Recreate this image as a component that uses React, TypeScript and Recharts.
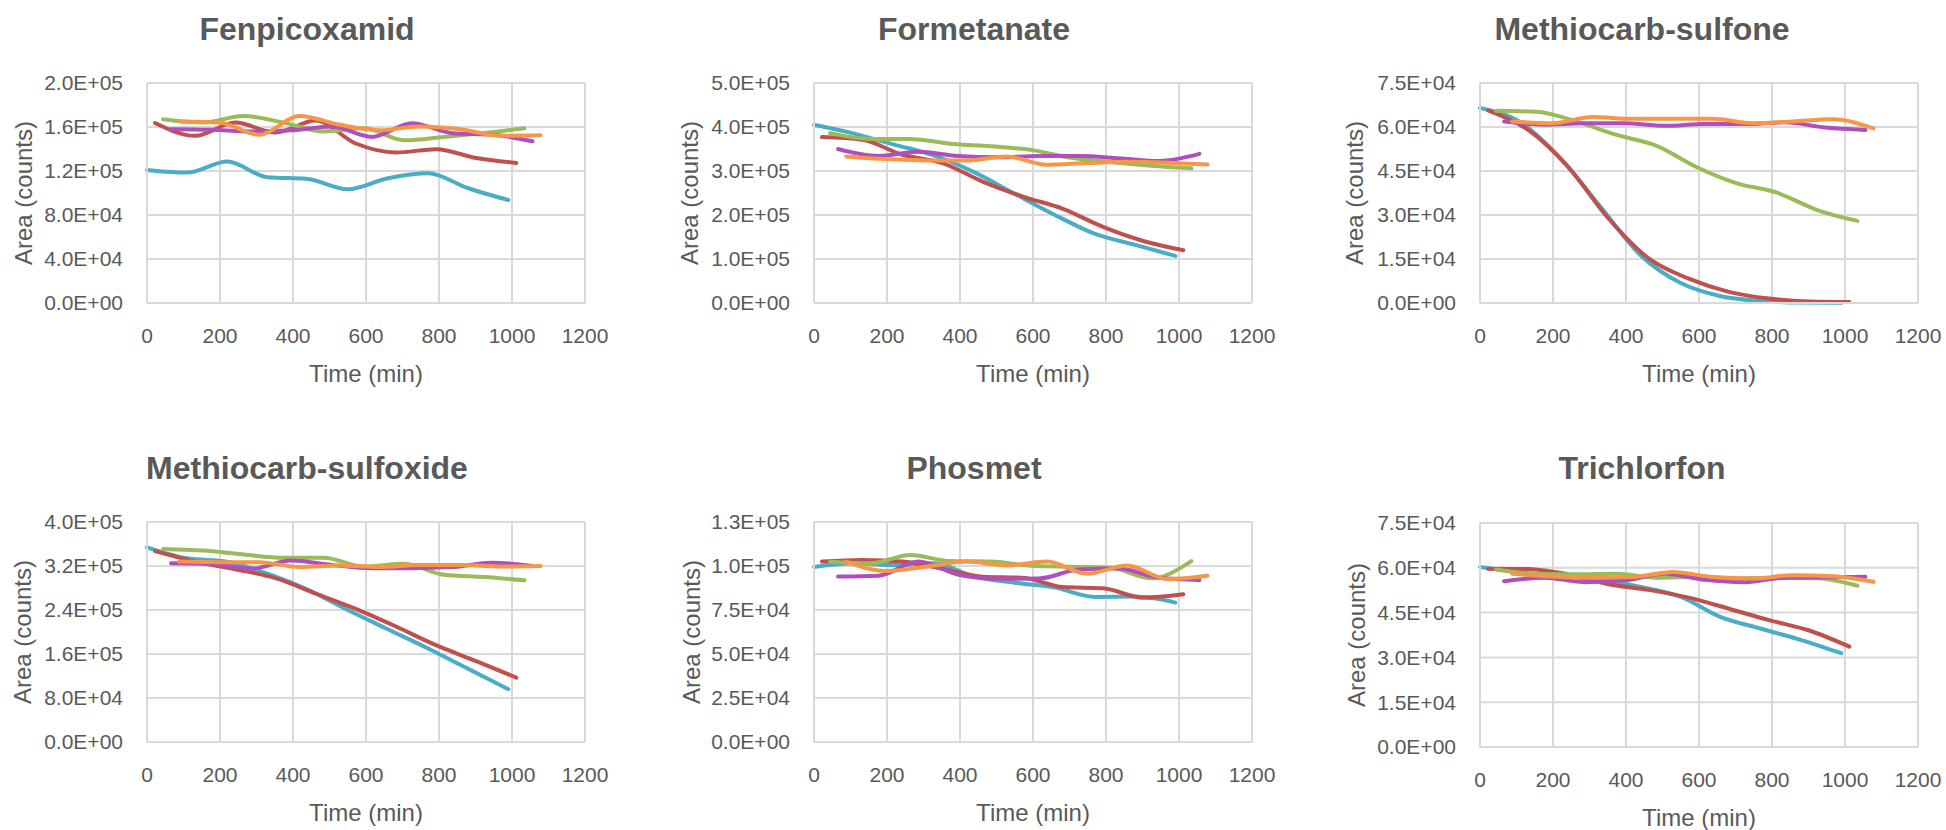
import { CartesianGrid, Label, Line, LineChart, XAxis, YAxis } from "recharts";

// sampling times (min) for the five vials, staggered injections
const TIME_A = [0, 110, 220, 330, 440, 550, 660, 770, 880, 990];
const TIME_B = [22, 132, 242, 352, 462, 572, 682, 792, 902, 1012];
const TIME_C = [44, 154, 264, 374, 484, 594, 704, 814, 924, 1034];
const TIME_D = [66, 176, 286, 396, 506, 616, 726, 836, 946, 1056];
const TIME_E = [88, 198, 308, 418, 528, 638, 748, 858, 968, 1078];

const X_TICKS = [0, 200, 400, 600, 800, 1000, 1200];

// Fenpicoxamid
const FEN_A = [121000, 118600, 128600, 114300, 112800, 103400, 113400, 118000, 104300, 93600];
const FEN_B = [163600, 152000, 164000, 155000, 166000, 145000, 136800, 139800, 131800, 127300];
const FEN_C = [167000, 164000, 170000, 164000, 156000, 159000, 148000, 151000, 154500, 158800];
const FEN_D = [158000, 157500, 156000, 157000, 160500, 151000, 163500, 154400, 153000, 147000];
const FEN_E = [165000, 164000, 153000, 170000, 162000, 157000, 160500, 158000, 152000, 152400];
const FEN_Y = [0, 40000, 80000, 120000, 160000, 200000];

// Formetanate
const FOR_A = [405000, 385000, 360000, 335000, 297000, 248000, 200000, 157000, 132000, 107000];
const FOR_B = [377000, 371000, 337000, 318000, 276000, 242000, 214000, 173000, 141000, 120000];
const FOR_C = [386000, 373000, 373000, 362000, 356000, 348000, 330000, 320000, 312000, 306000];
const FOR_D = [350000, 334000, 344000, 334000, 331000, 334000, 334000, 329000, 323000, 339000];
const FOR_E = [333000, 327000, 324000, 324000, 333000, 314000, 318000, 321000, 319000, 315000];
const FOR_Y = [0, 100000, 200000, 300000, 400000, 500000];

// Methiocarb-sulfone
const MSO_A = [66500, 61700, 49400, 32800, 16300, 6800, 2300, 700, 150, 50];
const MSO_B = [65700, 59000, 46300, 28800, 15200, 8300, 3800, 1500, 500, 300];
const MSO_C = [65500, 65200, 61900, 57300, 53600, 46300, 40800, 37600, 31700, 28000];
const MSO_D = [61900, 60800, 61300, 61300, 60400, 61000, 61000, 61600, 59800, 59000];
const MSO_E = [61900, 61300, 63400, 62800, 62800, 62800, 61300, 61900, 62600, 59500];
const MSO_Y = [0, 15000, 30000, 45000, 60000, 75000];

// Methiocarb-sulfoxide
const MSX_A = [354000, 334000, 328000, 306000, 277000, 240000, 205000, 170000, 133000, 96000];
const MSX_B = [347000, 328000, 314000, 298000, 270000, 242000, 210000, 176000, 147000, 117000];
const MSX_C = [351000, 348000, 341000, 335000, 335000, 319000, 324000, 304000, 300000, 294000];
const MSX_D = [325000, 324000, 315000, 330000, 322000, 316000, 316000, 318000, 326000, 320000];
const MSX_E = [328000, 327000, 327000, 318000, 321000, 318000, 322000, 322000, 319000, 320000];
const MSX_Y = [0, 80000, 160000, 240000, 320000, 400000];

// Phosmet
const PHO_A = [99400, 101500, 100500, 101600, 93900, 90500, 87700, 82400, 82600, 79200];
const PHO_B = [102500, 103400, 102500, 98400, 93900, 93300, 88000, 87300, 82000, 83900];
const PHO_C = [102400, 101500, 106200, 102800, 102500, 100200, 99600, 99000, 93000, 102800];
const PHO_D = [94000, 94500, 102500, 95000, 92700, 92900, 98000, 98600, 93300, 92000];
const PHO_E = [102500, 97200, 99600, 102500, 100300, 102500, 95600, 100300, 92600, 94500];
const PHO_Y = [0, 25000, 50000, 75000, 100000, 125000];

// Trichlorfon
const TRI_A = [60300, 58500, 57000, 56000, 53600, 50300, 43500, 39600, 35800, 31400];
const TRI_B = [59700, 59600, 57800, 54500, 52600, 50000, 46300, 42500, 39000, 33600];
const TRI_C = [59400, 58000, 57800, 58000, 56700, 56900, 56400, 56700, 56500, 54000];
const TRI_D = [55500, 56700, 55200, 55800, 58000, 56000, 55200, 56700, 56800, 57000];
const TRI_E = [58000, 57100, 56700, 56900, 58600, 56900, 56400, 57500, 57200, 55300];
const TRI_Y = [0, 15000, 30000, 45000, 60000, 75000];

const TIMES = [TIME_A, TIME_B, TIME_C, TIME_D, TIME_E];
const COLORS = ["#4BACC6", "#C0504D", "#9BBB59", "#AF4FBF", "#F79646"];

const FONT = "'Liberation Sans', Arial, sans-serif";
const TEXT = "#595959";
const GRID = "#D9D9D9";

const PLOT_W = 438;
const MT = 20;
const MR = 28;
const XH = 90;
const MB = 4;

const fmtExp = (v: number) => {
  const [m, e] = v.toExponential(1).split("e");
  const n = parseInt(e, 10);
  return `${m}E${n < 0 ? "-" : "+"}${String(Math.abs(n)).padStart(2, "0")}`;
};

const PANELS = [
  { title: "Fenpicoxamid", values: [FEN_A, FEN_B, FEN_C, FEN_D, FEN_E], yTicks: FEN_Y, chartX: 0, plotLeft: 147, plotTop: 83, plotH: 220, yLabelX: 23, titleX: 307, titleTop: 13 },
  { title: "Formetanate", values: [FOR_A, FOR_B, FOR_C, FOR_D, FOR_E], yTicks: FOR_Y, chartX: 650, plotLeft: 814, plotTop: 83, plotH: 220, yLabelX: 689, titleX: 974, titleTop: 13 },
  { title: "Methiocarb-sulfone", values: [MSO_A, MSO_B, MSO_C, MSO_D, MSO_E], yTicks: MSO_Y, chartX: 1300, plotLeft: 1480, plotTop: 83, plotH: 220, yLabelX: 1354, titleX: 1642, titleTop: 13 },
  { title: "Methiocarb-sulfoxide", values: [MSX_A, MSX_B, MSX_C, MSX_D, MSX_E], yTicks: MSX_Y, chartX: 0, plotLeft: 147, plotTop: 522, plotH: 220, yLabelX: 22, titleX: 307, titleTop: 452 },
  { title: "Phosmet", values: [PHO_A, PHO_B, PHO_C, PHO_D, PHO_E], yTicks: PHO_Y, chartX: 650, plotLeft: 814, plotTop: 522, plotH: 220, yLabelX: 691, titleX: 974, titleTop: 452 },
  { title: "Trichlorfon", values: [TRI_A, TRI_B, TRI_C, TRI_D, TRI_E], yTicks: TRI_Y, chartX: 1300, plotLeft: 1480, plotTop: 523, plotH: 224, yLabelX: 1356, titleX: 1642, titleTop: 452 },
];

type PanelProps = (typeof PANELS)[number];

function Panel(p: PanelProps) {
  const yAxisW = p.plotLeft - p.chartX;
  const width = yAxisW + PLOT_W + MR;
  const height = MT + p.plotH + XH + MB;
  const yMax = p.yTicks[p.yTicks.length - 1];
  const labelOffset = p.yLabelX - p.chartX;

  const yLabel = (props: any) => {
    const vb = props.viewBox || {};
    const cx = (vb.x ?? 0) + labelOffset;
    const cy = (vb.y ?? MT) + (vb.height ?? p.plotH) / 2;
    return (
      <text
        x={cx}
        y={cy}
        dy="0.36em"
        transform={`rotate(-90 ${cx} ${cy})`}
        textAnchor="middle"
        fill={TEXT}
        fontSize={24}
        fontFamily={FONT}
      >
        Area (counts)
      </text>
    );
  };

  const xLabel = (props: any) => {
    const vb = props.viewBox || {};
    return (
      <text
        x={(vb.x ?? 0) + (vb.width ?? PLOT_W) / 2}
        y={(vb.y ?? 0) + 79}
        textAnchor="middle"
        fill={TEXT}
        fontSize={24}
        fontFamily={FONT}
      >
        Time (min)
      </text>
    );
  };

  return (
    <>
      <div
        style={{
          position: "absolute",
          left: p.titleX - 250,
          top: p.titleTop,
          width: 500,
          textAlign: "center",
          fontFamily: FONT,
          fontWeight: "bold",
          fontSize: 32,
          lineHeight: "32px",
          color: TEXT,
        }}
      >
        {p.title}
      </div>
      <div style={{ position: "absolute", left: p.chartX, top: p.plotTop - MT }}>
        <LineChart width={width} height={height} margin={{ top: MT, right: MR, bottom: MB, left: 0 }}>
          <CartesianGrid stroke={GRID} strokeWidth={2} />
          <XAxis
            dataKey="t"
            type="number"
            domain={[0, 1200]}
            ticks={X_TICKS}
            interval={0}
            height={XH}
            tickSize={0}
            tickMargin={25}
            tickLine={false}
            axisLine={{ stroke: GRID, strokeWidth: 2 }}
            tick={{ fill: TEXT, fontSize: 21, fontFamily: FONT }}
          >
            <Label content={xLabel} />
          </XAxis>
          <YAxis
            type="number"
            domain={[0, yMax]}
            ticks={p.yTicks}
            interval={0}
            width={yAxisW}
            tickSize={0}
            tickMargin={24}
            tickLine={false}
            tickFormatter={fmtExp}
            axisLine={{ stroke: GRID, strokeWidth: 2 }}
            tick={{ fill: TEXT, fontSize: 21, fontFamily: FONT }}
          >
            <Label content={yLabel} />
          </YAxis>
          {p.values.map((vals, i) => (
            <Line
              key={i}
              data={TIMES[i].map((t, k) => ({ t, v: vals[k] }))}
              dataKey="v"
              type="monotone"
              stroke={COLORS[i]}
              strokeWidth={4}
              strokeLinecap="round"
              dot={false}
              activeDot={false}
              isAnimationActive={false}
            />
          ))}
        </LineChart>
      </div>
    </>
  );
}

export default function App() {
  return (
    <div style={{ position: "absolute", left: 0, top: 0, width: 1946, height: 830, background: "#fff" }}>
      {PANELS.map((p) => (
        <Panel key={p.title} {...p} />
      ))}
    </div>
  );
}
